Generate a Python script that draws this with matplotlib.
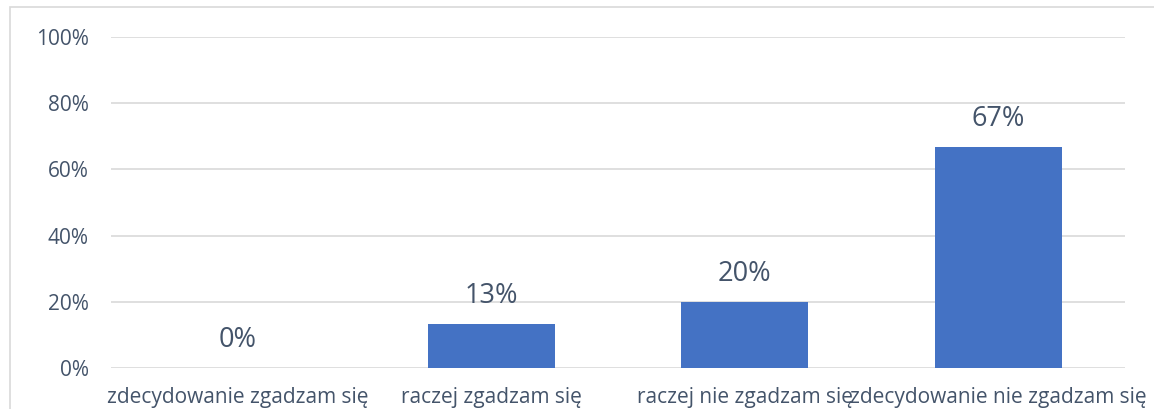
import matplotlib
matplotlib.use('Agg')
import matplotlib.pyplot as plt
from matplotlib.patches import Rectangle

categories = ['zdecydowanie zgadzam się', 'raczej zgadzam się',
              'raczej nie zgadzam się', 'zdecydowanie nie zgadzam się']
values = [0, 13.33, 20, 66.67]
yticks = [0, 20, 40, 60, 80, 100]

plt.rcParams['font.family'] = ['Open Sans', 'DejaVu Sans']
text_color = '#44546A'
grid_color = '#D9D9D9'

W, H = 1154, 409
fig = plt.figure(figsize=(W / 100, H / 100), dpi=100)
ax = fig.add_axes([111 / W, 1 - 368 / H, (1125 - 111) / W, (368 - 37) / H])

# outer chart border (top-left part visible)
fig.patches.append(Rectangle((10 / W, -0.1), 1.2, 1 - 7 / H + 0.1,
                             transform=fig.transFigure, fill=False,
                             edgecolor=grid_color, linewidth=1.2))

x = range(len(categories))
ax.bar(x, values, width=0.5, color='#4472C4', zorder=3)
for xi, v in zip(x, values):
    ax.annotate(f"{round(v)}%", (xi, v), xytext=(0, 10), textcoords='offset points',
                ha='center', va='bottom', fontsize=19.5, color=text_color)

ax.set_xlim(-0.5, len(categories) - 0.5)
ax.set_ylim(0, 100)
ax.set_yticks(yticks)
ax.set_yticklabels([f"{t}%" for t in yticks], fontsize=15, color=text_color)
ax.set_xticks(list(x))
ax.set_xticklabels(categories, fontsize=15, color=text_color)
ax.tick_params(axis='both', length=0)
ax.tick_params(axis='y', pad=16)
ax.tick_params(axis='x', pad=14)
ax.grid(axis='y', color=grid_color, linewidth=1.2, zorder=0)
for s in ax.spines.values():
    s.set_visible(False)

fig.savefig('out.png', dpi=100)
